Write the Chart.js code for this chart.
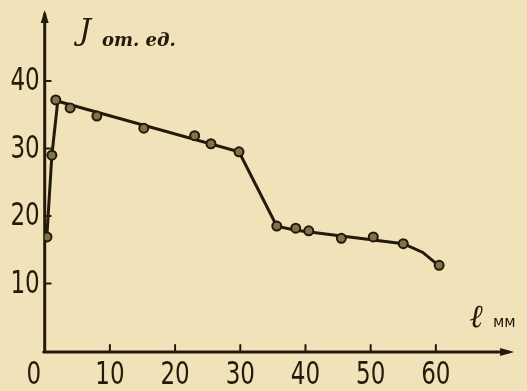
<!DOCTYPE html>
<html><head><meta charset="utf-8">
<script src="https://cdn.jsdelivr.net/npm/chart.js@4/dist/chart.umd.min.js"></script>
<style>html,body{margin:0;padding:0;background:#f2e2b9;}canvas{display:block;}</style>
</head><body>
<canvas id="c" width="527" height="391"></canvas>
<script>
// measured points
const pointX = [0.35, 1.1, 1.7, 3.9, 8.0, 15.2, 23.0, 25.5, 29.8, 35.6, 38.5, 40.5, 45.5, 50.4, 55.0, 60.5];
const pointY = [16.9, 29.0, 37.2, 36.0, 34.8, 33.0, 31.9, 30.7, 29.5, 18.5, 18.2, 17.8, 16.7, 16.9, 15.9, 12.7];
// drawn curve
const lineX = [0.3, 1.1, 2.0, 29.8, 35.6, 38.5, 55.0, 58.0, 61.0];
const lineY = [16.5, 29.0, 37.0, 29.5, 18.5, 17.9, 15.9, 14.6, 12.2];
const xTicks = [10, 20, 30, 40, 50, 60];
const yTicks = [10, 20, 30, 40];
const xOriginLabel = '0';
const yTitle = ['J', 'от. ед.'];
const xTitle = ['ℓ', 'мм'];

const ink = '#231a0c';
const numFont = "'Liberation Sans Narrow','DejaVu Sans Condensed',sans-serif";

function narrowText(ctx, s, x, y, align) {
  const k = 0.8;
  ctx.save();
  ctx.translate(x, y);
  ctx.scale(k, 1);
  ctx.textAlign = align;
  ctx.fillText(s, 0, 0);
  ctx.restore();
}

const axesPlugin = {
  id: 'handAxes',
  beforeDatasetsDraw(chart) {
    const ctx = chart.ctx, xs = chart.scales.x, ys = chart.scales.y;
    const x0 = xs.getPixelForValue(0), y0 = ys.getPixelForValue(0);
    const xEnd = xs.getPixelForValue(xs.max), yEnd = ys.getPixelForValue(ys.max);
    ctx.save();
    ctx.strokeStyle = ink; ctx.fillStyle = ink;
    ctx.lineWidth = 3; ctx.lineCap = 'round';
    // axes
    ctx.beginPath();
    ctx.moveTo(x0, y0 + 1); ctx.lineTo(x0, yEnd + 4);
    ctx.moveTo(x0 - 1, y0 + 1); ctx.lineTo(xEnd - 6, y0 + 1);
    ctx.stroke();
    // arrows
    ctx.beginPath();
    ctx.moveTo(xEnd, y0 + 1); ctx.lineTo(xEnd - 14, y0 - 3); ctx.lineTo(xEnd - 14, y0 + 5); ctx.closePath();
    ctx.fill();
    ctx.beginPath();
    ctx.moveTo(x0, yEnd); ctx.lineTo(x0 - 4, yEnd + 13); ctx.lineTo(x0 + 4, yEnd + 13); ctx.closePath();
    ctx.fill();
    // ticks
    ctx.lineWidth = 2;
    ctx.beginPath();
    xTicks.forEach(v => { const p = xs.getPixelForValue(v); ctx.moveTo(p, y0 + 1); ctx.lineTo(p, y0 - 6); });
    yTicks.forEach(v => { const p = ys.getPixelForValue(v); ctx.moveTo(x0, p); ctx.lineTo(x0 + 6, p); });
    ctx.stroke();
    // tick labels
    ctx.font = '32px ' + numFont;
    ctx.textBaseline = 'middle';
    xTicks.forEach(v => narrowText(ctx, String(v), xs.getPixelForValue(v), y0 + 25, 'center'));
    narrowText(ctx, xOriginLabel, x0 - 11, y0 + 25, 'center');
    yTicks.forEach(v => narrowText(ctx, String(v), x0 - 5, ys.getPixelForValue(v) + 1, 'right'));
    // titles
    ctx.textAlign = 'left'; ctx.textBaseline = 'alphabetic';
    ctx.font = 'italic 30px "DejaVu Serif",serif';
    ctx.fillText(yTitle[0], 79, 40);
    ctx.font = 'italic bold 18px "DejaVu Serif",serif';
    ctx.fillText(yTitle[1], 102, 46);
    ctx.font = 'italic bold 32px "DejaVu Serif",serif';
    ctx.fillText(xTitle[0], 470, 327);
    ctx.font = '15px "DejaVu Sans",sans-serif';
    ctx.fillText(xTitle[1], 493, 327);
    ctx.restore();
  }
};

new Chart(document.getElementById('c'), {
  type: 'scatter',
  data: {
    datasets: [
      {
        data: lineX.map((x, i) => ({x, y: lineY[i]})),
        showLine: true, borderColor: ink, borderWidth: 3, pointRadius: 0,
        tension: 0, order: 2
      },
      {
        data: pointX.map((x, i) => ({x, y: pointY[i]})),
        showLine: false, pointRadius: 4.5, pointBorderWidth: 2,
        pointBorderColor: ink, pointBackgroundColor: '#80724a', order: 1
      }
    ]
  },
  options: {
    responsive: false, animation: false,
    layout: { padding: { left: 44.7, right: 12.9, top: 10.1, bottom: 40 } },
    plugins: { legend: { display: false }, tooltip: { enabled: false } },
    scales: {
      x: { type: 'linear', min: 0, max: 72, display: false },
      y: { type: 'linear', min: 0, max: 50.5, display: false }
    }
  },
  plugins: [axesPlugin]
});
</script>
</body></html>
